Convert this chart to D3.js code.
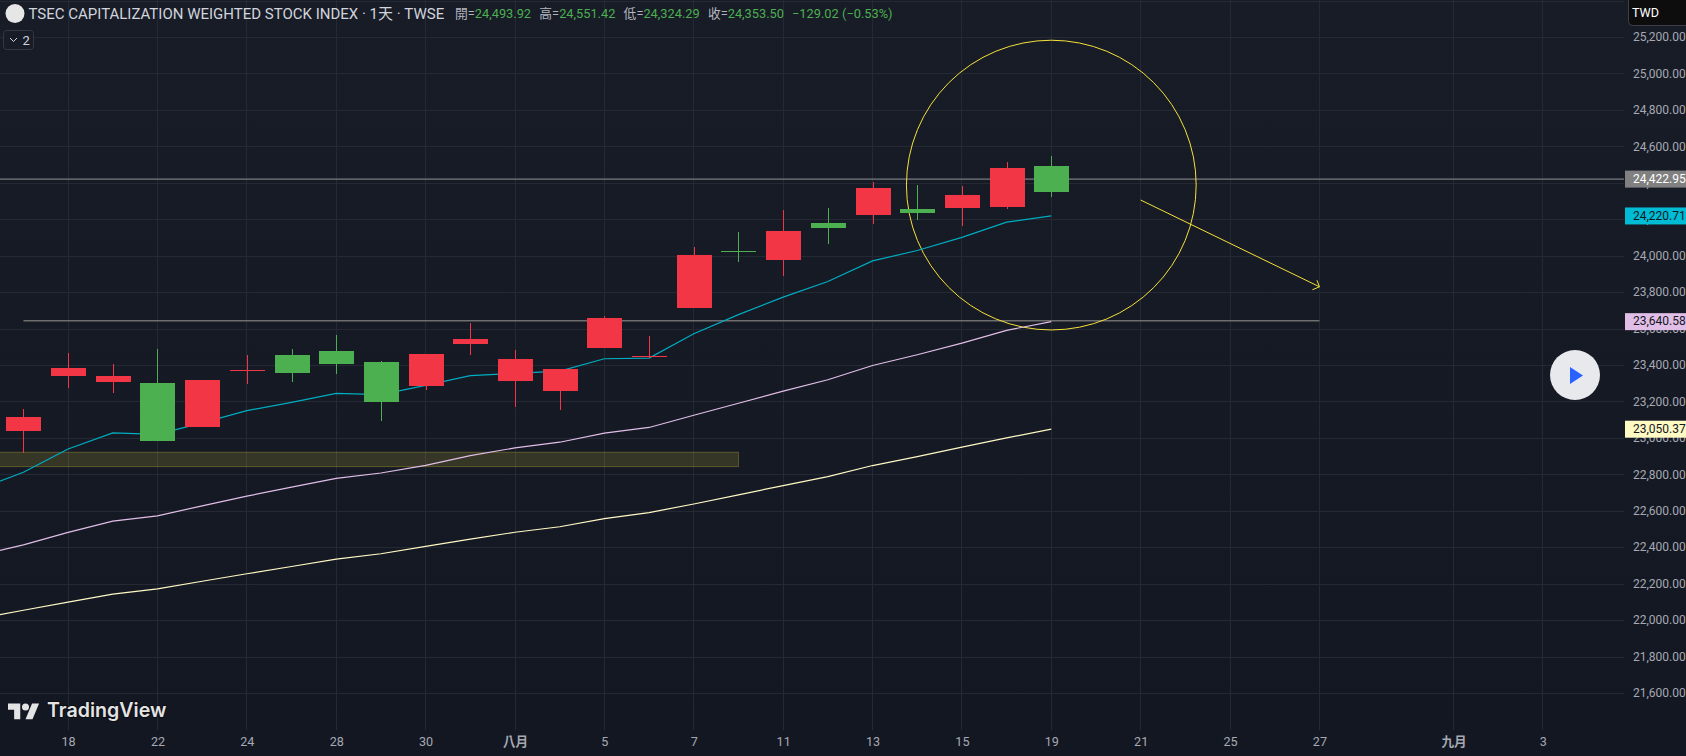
<!DOCTYPE html>
<html>
<head>
<meta charset="utf-8">
<script src="https://cdn.jsdelivr.net/npm/d3@7"></script>
<style>
    html, body { margin: 0; padding: 0; background: #131722; overflow: hidden; }
    svg { display: block; }
    text { font-family: Roboto, "Noto Sans CJK TC", sans-serif; }
</style>
</head>
<body>
<script>
// trading days, first one is only there so the averages run off the left edge
const tradingDays = [
    "07-16", "07-17", "07-18", "07-21", "07-22", "07-23", "07-24", "07-25", "07-28", "07-29", "07-30", "07-31",
    "08-01", "08-04", "08-05", "08-06", "08-07", "08-08", "08-11", "08-12", "08-13", "08-14", "08-15", "08-18",
    "08-19", "08-20", "08-21", "08-22", "08-25", "08-26", "08-27", "08-28", "08-29", "09-01", "09-02", "09-03"
];
const candleDays = tradingDays.slice(1, 25);
const opens = [23038, 23340, 23307, 23302, 23060, 23369, 23456, 23478, 23417, 23285, 23516, 23313, 23261, 23497, 23450, 23716, 24027, 23980, 24183, 24227, 24260, 24266, 24268, 24493.92];
const highs = [23159, 23467, 23406, 23489, 23320, 23456, 23489, 23566, 23423, 23465, 23632, 23483, 23382, 23673, 23563, 24051, 24134, 24255, 24266, 24408, 24392, 24386, 24515, 24551.42];
const lows = [22922, 23274, 23247, 22983, 23060, 23296, 23307, 23351, 23093, 23263, 23456, 23170, 23157, 23497, 23441, 23716, 23969, 23892, 24068, 24178, 24200, 24167, 24257, 24324.29];
const closes = [23115, 23384, 23340, 22983, 23318, 23373, 23357, 23406, 23197, 23461, 23544, 23434, 23382, 23662, 23453, 24007, 24025, 24139, 24156, 24375, 24238, 24337, 24482, 24353.50];

const maFast = [22722, 22814, 22942, 23030, 23022, 23085, 23152, 23198, 23247, 23240, 23291, 23344, 23357, 23369, 23437, 23441, 23574, 23679, 23775, 23861, 23974, 24031, 24103, 24187, 24220.71];
const maMid = [22357, 22416, 22484, 22546, 22575, 22630, 22683, 22733, 22781, 22810, 22852, 22905, 22948, 22979, 23029, 23060, 23127, 23193, 23259, 23322, 23400, 23459, 23523, 23593, 23640.58];
const maSlow = [22011, 22057, 22101, 22145, 22174, 22216, 22257, 22297, 22337, 22367, 22407, 22447, 22485, 22515, 22560, 22593, 22640, 22690, 22741, 22790, 22851, 22900, 22952, 23003, 23050.37];

const tickDays = ["07-18", "07-22", "07-24", "07-28", "07-30", "08-01", "08-05", "08-07", "08-11", "08-13", "08-15", "08-19", "08-21", "08-25", "08-27", "09-01", "09-03"];
const tickLabels = ["18", "22", "24", "28", "30", "八月", "5", "7", "11", "13", "15", "19", "21", "25", "27", "九月", "3"];
const priceTicks = [21600, 21800, 22000, 22200, 22400, 22600, 22800, 23000, 23200, 23400, 23600, 23800, 24000, 24200, 24400, 24600, 24800, 25000, 25200, 25400];

const lastPrice = 24422.95;
const supportPrice = 23645;
const zonePrices = [22924, 22845];
const zoneDays = ["07-16", "08-08"];
const circleCentre = { day: "08-19", price: 24390, edgePrice: 23595 };
const arrowDays = ["08-21", "08-27"];
const arrowPrices = [24308, 23832];

const headerLabels = ["開", "高", "低", "收"];
const headerValues = ["24,493.92", "24,551.42", "24,324.29", "24,353.50"];

const width = 1686;
const height = 756;
const axisX = 1624;
const plotBottom = 730;
const up = "#f23645";
const down = "#4caf50";

const svg = d3.select("body").append("svg").attr("width", width).attr("height", height);

const grad = svg.append("defs").append("linearGradient").attr("id", "bg").attr("x1", 0).attr("x2", 0).attr("y1", 0).attr("y2", 1);
grad.append("stop").attr("offset", "0%").attr("stop-color", "#181c27");
grad.append("stop").attr("offset", "100%").attr("stop-color", "#131722");
svg.append("rect").attr("width", width).attr("height", height).attr("fill", "url(#bg)");

const x = d3.scalePoint().domain(tradingDays).range([-21.29, 1542.9]);
const y = d3.scaleLinear().domain([25200, 21600]).range([37.5, 693.5]);

// grid
const grid = svg.append("g").attr("shape-rendering", "crispEdges").attr("stroke", "#252934");
grid.selectAll(".h").data(priceTicks).enter().append("line")
    .attr("class", "h").attr("x1", 0).attr("x2", axisX).attr("y1", d => y(d)).attr("y2", d => y(d));
grid.selectAll(".v").data(tickDays).enter().append("line")
    .attr("class", "v").attr("x1", d => x(d)).attr("x2", d => x(d)).attr("y1", 0).attr("y2", plotBottom);

// axes
const yAxis = svg.append("g").attr("transform", `translate(1633,0)`)
    .call(d3.axisRight(y).tickValues(priceTicks.slice(0, -1)).tickSize(0).tickPadding(0).tickFormat(d3.format(",.2f")));
const xAxis = svg.append("g").attr("transform", `translate(0,737)`)
    .call(d3.axisBottom(x).tickValues(tickDays).tickSize(0).tickPadding(0).tickFormat((d, i) => tickLabels[i]));
yAxis.select(".domain").remove();
xAxis.select(".domain").remove();
yAxis.selectAll("text").attr("fill", "#a6a9b2").attr("dy", "0.27em").style("font-size", "12px");
xAxis.selectAll("text").attr("fill", "#a6a9b2").style("font-size", "12.6px")
    .attr("font-weight", (d, i) => /月/.test(tickLabels[i]) ? 700 : 400);

// drawings, these sit behind the candles
const drawings = svg.append("g");
drawings.append("line").attr("x1", 0).attr("x2", axisX).attr("y1", y(lastPrice)).attr("y2", y(lastPrice))
    .attr("stroke", "#949494").attr("stroke-width", 1);
drawings.append("line").attr("x1", x("07-17")).attr("x2", x("08-27")).attr("y1", y(supportPrice)).attr("y2", y(supportPrice))
    .attr("stroke", "#6e6e6e").attr("stroke-width", 1.5);
drawings.append("rect")
    .attr("x", x(zoneDays[0])).attr("width", x(zoneDays[1]) - x(zoneDays[0]))
    .attr("y", y(zonePrices[0])).attr("height", y(zonePrices[1]) - y(zonePrices[0]))
    .attr("fill", "rgba(255,235,59,0.14)").attr("stroke", "rgba(255,235,59,0.25)");
drawings.append("circle").attr("cx", x(circleCentre.day)).attr("cy", y(circleCentre.price))
    .attr("r", y(circleCentre.edgePrice) - y(circleCentre.price))
    .attr("fill", "none").attr("stroke", "#f5e13a").attr("stroke-width", 1);

const ax1 = x(arrowDays[0]), ay1 = y(arrowPrices[0]), ax2 = x(arrowDays[1]), ay2 = y(arrowPrices[1]);
drawings.append("line").attr("x1", ax1).attr("y1", ay1).attr("x2", ax2).attr("y2", ay2)
    .attr("stroke", "#f5e13a").attr("stroke-width", 1);
drawings.append("path")
    .attr("d", `M${ax2 - 2.5},${ay2 - 6.5}L${ax2},${ay2}L${ax2 - 7},${ay2 + 3}`)
    .attr("fill", "none").attr("stroke", "#f5e13a").attr("stroke-width", 1);

// moving averages
const line = d3.line().x((d, i) => x(tradingDays[i])).y(d => y(d));
[[maFast, "#00acc1"], [maMid, "#e1bee7"], [maSlow, "#fff9c4"]].forEach(([vals, col]) => {
    svg.append("path").attr("d", line(vals)).attr("fill", "none").attr("stroke", col).attr("stroke-width", 1.2);
});

// candles
const candles = svg.append("g").attr("shape-rendering", "crispEdges");
const bodyW = 35;
candles.selectAll(".wick").data(candleDays).enter().append("rect")
    .attr("class", "wick")
    .attr("x", d => Math.round(x(d)))
    .attr("width", 1)
    .attr("y", (d, i) => y(highs[i]))
    .attr("height", (d, i) => y(lows[i]) - y(highs[i]))
    .attr("fill", (d, i) => closes[i] >= opens[i] ? up : down);
candles.selectAll(".body").data(candleDays).enter().append("rect")
    .attr("class", "body")
    .attr("x", d => Math.round(x(d)) - 17)
    .attr("width", bodyW)
    .attr("y", (d, i) => y(Math.max(opens[i], closes[i])))
    .attr("height", (d, i) => Math.max(1, Math.abs(y(opens[i]) - y(closes[i]))))
    .attr("fill", (d, i) => closes[i] >= opens[i] ? up : down);

// price tags on the axis
const tags = [[lastPrice, "#808080", "#ffffff"], [maFast[24], "#00bcd4", "#131722"], [maMid[24], "#e1bee7", "#131722"], [maSlow[24], "#fff9c4", "#131722"]];
const tag = svg.selectAll(".tag").data(tags).enter().append("g").attr("class", "tag")
    .attr("transform", d => `translate(1625,${y(d[0])})`);
tag.append("rect").attr("y", -8.5).attr("width", 61).attr("height", 17).attr("fill", d => d[1]);
tag.append("text").attr("x", 8).attr("dy", "0.3em").attr("fill", d => d[2]).style("font-size", "12px")
    .text(d => d3.format(",.2f")(d[0]));

// currency box
svg.append("rect").attr("x", 1628.5).attr("y", -4).attr("width", 70).attr("height", 29.5).attr("rx", 4)
    .attr("fill", "#0d0d0e").attr("stroke", "#3c3f48");
svg.append("text").attr("x", 1632).attr("y", 17).attr("fill", "#ffffff").style("font-size", "12.6px").text("TWD");

// play button
svg.append("circle").attr("cx", 1575).attr("cy", 375).attr("r", 25).attr("fill", "#e8e9ed");
svg.append("path").attr("d", "M1570,367L1583,375.5L1570,384Z").attr("fill", "#2962ff");

// header
svg.append("circle").attr("cx", 15).attr("cy", 13.5).attr("r", 9.5).attr("fill", "#e6e6e6");
svg.append("text").attr("x", 28.5).attr("y", 18.5).attr("fill", "#d1d4dc").style("font-size", "15px")
    .text("TSEC CAPITALIZATION WEIGHTED STOCK INDEX · 1天 · TWSE");

const legend = svg.append("text").attr("x", 455).attr("y", 18).style("font-size", "12.8px");
headerLabels.forEach((lab, i) => {
    legend.append("tspan").attr("x", 455 + i * 84.3).attr("fill", "#b2b5be").text(lab + "=");
    legend.append("tspan").attr("fill", down).text(headerValues[i]);
});
legend.append("tspan").attr("x", 792).attr("fill", down).text("−129.02");
legend.append("tspan").attr("x", 842).attr("fill", down).text("(−0.53%)");

// collapse button
svg.append("rect").attr("x", 3.5).attr("y", 30.5).attr("width", 30).attr("height", 19).attr("rx", 3)
    .attr("fill", "#181c27").attr("stroke", "#343843");
svg.append("path").attr("d", "M10,38L13.5,41.5L17,38").attr("fill", "none").attr("stroke", "#d1d4dc");
svg.append("text").attr("x", 22.5).attr("y", 45).attr("fill", "#d1d4dc").style("font-size", "13px").text("2");

// logo
svg.append("path").attr("transform", "translate(8,700) scale(0.875)")
    .attr("d", "M14 22H7V11H0V4h14v18zM28 22h-8l7.5-18h8L28 22z")
    .attr("fill", "#e4e4e4");
svg.append("circle").attr("cx", 25.5).attr("cy", 707).attr("r", 3.5).attr("fill", "#e4e4e4");
svg.append("text").attr("x", 47).attr("y", 717).attr("fill", "#e4e4e4")
    .style("font-family", "Inter").style("font-size", "19.6px").style("font-weight", 600)
    .style("paint-order", "stroke").attr("stroke", "#0c0e14").attr("stroke-width", 2)
    .text("TradingView");
</script>
</body>
</html>
